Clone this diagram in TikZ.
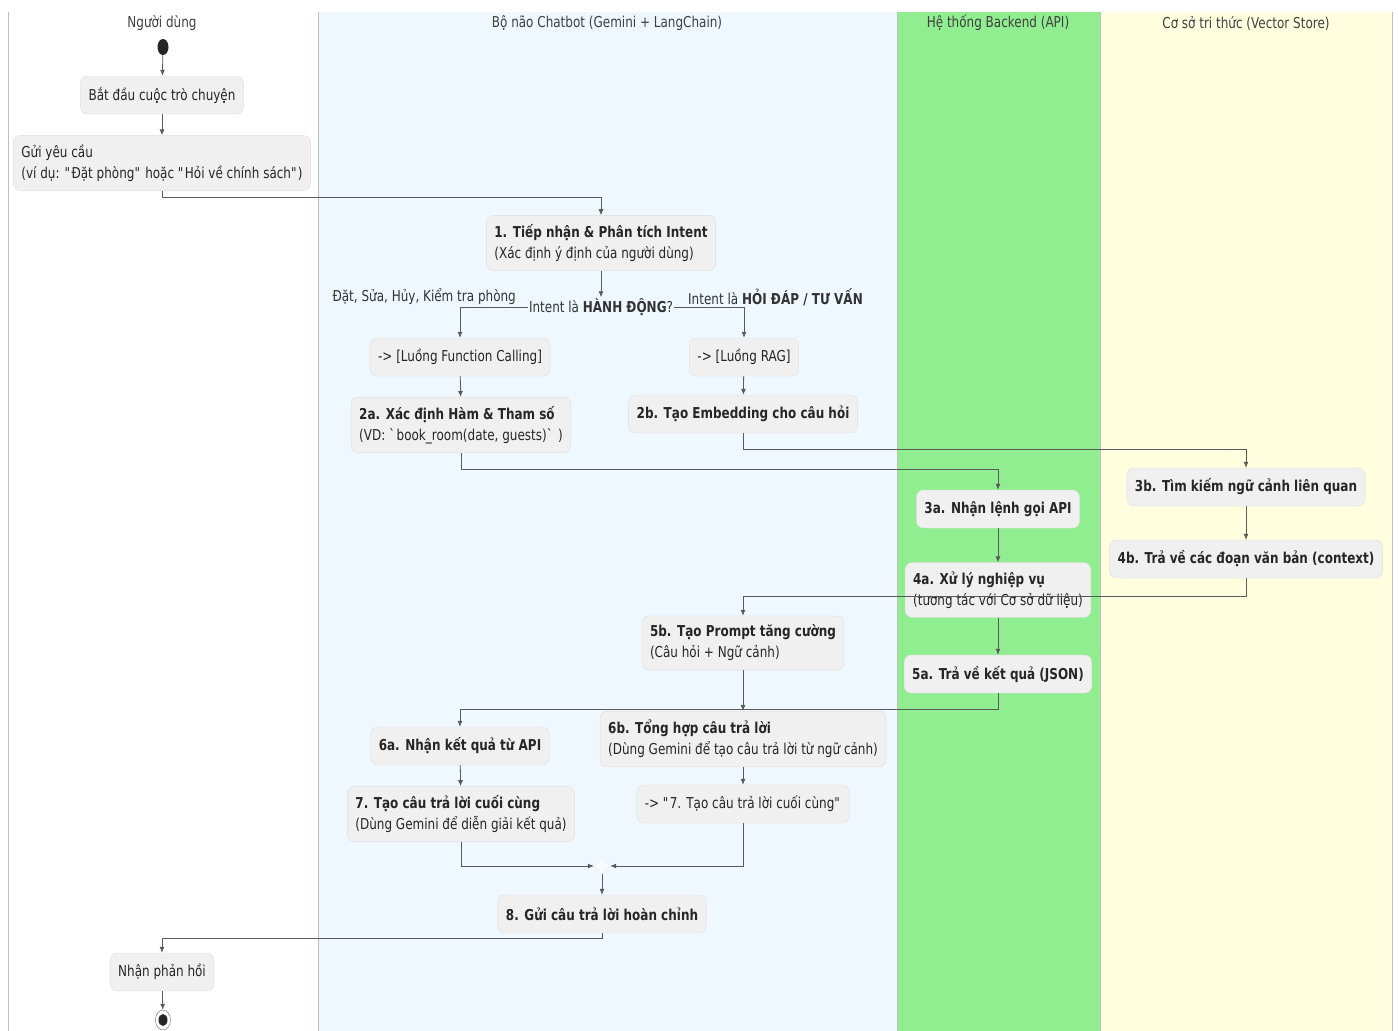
\documentclass[tikz,border=0pt]{standalone}
\usepackage{fontspec}
\setmainfont[FakeStretch=0.8]{DejaVu Sans}
\usetikzlibrary{positioning,arrows.meta,shapes.geometric}
\definecolor{laneblue}{HTML}{F0F8FF}
\definecolor{lanegreen}{HTML}{90EE90}
\definecolor{laneyellow}{HTML}{FFFFE0}
\definecolor{boxfill}{HTML}{F0F0F0}
\definecolor{boxline}{HTML}{DDDDDD}
\definecolor{edgecol}{HTML}{5A5A5A}
\newcommand{\q}{\textquotedbl}

\begin{document}
\begin{tikzpicture}[x=1pt,y=-1pt,
activity/.style={
% The shape:
rectangle, rounded corners=7pt,
minimum height=38pt, inner xsep=8pt, inner ysep=9pt,
% The rest
fill=boxfill, draw=boxline, text=black!85,
font=\fontsize{15}{21}\selectfont},
notebox/.style={activity, align=left},
flow/.style={-{Latex[length=6pt,width=5pt]}, draw=edgecol, line width=0.8pt},
lanehead/.style={font=\fontsize{15}{21}\selectfont, text=black!75},
guard/.style={font=\fontsize{15}{21}\selectfont, text=black!80, inner sep=1pt}]

\useasboundingbox (0,0) rectangle (1398,1031);

% swimlanes
\fill[laneblue] (318,12) rectangle (897,1031);
\fill[lanegreen] (897,12) rectangle (1100,1031);
\fill[laneyellow] (1100,12) rectangle (1392,1031);
\foreach \x in {8,318,897,1100,1392}
  \draw[black!25, line width=0.8pt] (\x,12) -- (\x,1031);

\node (hUser) [lanehead] at (162,23) {Người dùng};
\node (hBot) [lanehead] at (607,23) {Bộ não Chatbot (Gemini + LangChain)};
\node (hApi) [lanehead] at (998,23) {Hệ thống Backend (API)};
\node (hKb) [lanehead] at (1246,23) {Cơ sở tri thức (Vector Store)};

% user lane
\node (start) [ellipse, fill=black!85, minimum width=11pt, minimum height=16pt, inner sep=0pt] at (163,47) {};
\node (chat) [activity] at (162,95) {Bắt đầu cuộc trò chuyện};
\node (ask) [notebox] at (162,163) {Gửi yêu cầu\\(ví dụ: \q Đặt phòng\q{} hoặc \q Hỏi về chính sách\q)};

% chatbot lane
\node (intent) [notebox] at (601,243) {\textbf{1. Tiếp nhận \& Phân tích Intent}\\(Xác định ý định của người dùng)};
\node (decide) [guard] at (601,307) {Intent là \textbf{HÀNH ĐỘNG}?};
\node (yesLbl) [guard, anchor=east] at (517,297) {Đặt, Sửa, Hủy, Kiểm tra phòng};
\node (noLbl) [guard, anchor=west] at (687,297) {Intent là \textbf{HỎI ĐÁP / TƯ VẤN}};
\node (fcall) [activity] at (460,357) {-> [Luồng Function Calling]};
\node (rag) [activity] at (744,357) {-> [Luồng RAG]};
\node (func) [notebox] at (461,425) {\textbf{2a. Xác định Hàm \& Tham số}\\(VD: \textasciigrave book\_room(date, guests)\textasciigrave\ )};
\node (embed) [activity] at (743,414) {\textbf{2b. Tạo Embedding cho câu hỏi}};

% backend + vector store
\node (call) [activity] at (998,509) {\textbf{3a. Nhận lệnh gọi API}};
\node (search) [activity] at (1246,487) {\textbf{3b. Tìm kiếm ngữ cảnh liên quan}};
\node (logic) [notebox] at (998,590) {\textbf{4a. Xử lý nghiệp vụ}\\(tương tác với Cơ sở dữ liệu)};
\node (context) [activity] at (1246,559) {\textbf{4b. Trả về các đoạn văn bản (context)}};
\node (json) [activity] at (998,674) {\textbf{5a. Trả về kết quả (JSON)}};

% back to chatbot
\node (prompt) [notebox] at (743,643) {\textbf{5b. Tạo Prompt tăng cường}\\(Câu hỏi + Ngữ cảnh)};
\node (result) [activity] at (460,746) {\textbf{6a. Nhận kết quả từ API}};
\node (synth) [notebox] at (743,739) {\textbf{6b. Tổng hợp câu trả lời}\\(Dùng Gemini để tạo câu trả lời từ ngữ cảnh)};
\node (final) [notebox] at (461,814) {\textbf{7. Tạo câu trả lời cuối cùng}\\(Dùng Gemini để diễn giải kết quả)};
\node (jump) [activity] at (743,804) {-> \q 7. Tạo câu trả lời cuối cùng\q};
\node (merge) [diamond, fill=white!60!laneblue, draw=black!8, minimum size=16pt, inner sep=0pt] at (602,866) {};
\node (reply) [activity] at (602,914) {\textbf{8. Gửi câu trả lời hoàn chỉnh}};

% user again
\node (get) [activity] at (162,972) {Nhận phản hồi};
\node (stop) [ellipse, draw=black!60, fill=white, minimum width=15pt, minimum height=20pt, inner sep=0pt] at (163,1020) {};
\node (stopIn) [ellipse, fill=black!85, minimum width=9pt, minimum height=12pt, inner sep=0pt] at (stop) {};

% edges
\draw[flow] (start) -- (chat);
\draw[flow] (chat) -- (ask);
\draw[flow] (ask.south) -- ++(0,7) -| (intent.north);
\draw[flow] (intent) -- (decide);
\draw[flow] (decide.west) -| (fcall.north);
\draw[flow] (decide.east) -| (rag.north);
\draw[flow] (fcall) -- (func);
\draw[flow] (rag) -- (embed);
\draw[flow] (func.south) -- ++(0,16) -| (call.north);
\draw[flow] (embed.south) -- ++(0,16) -| (search.north);
\draw[flow] (call) -- (logic);
\draw[flow] (search) -- (context);
\draw[flow] (context.south) -- ++(0,18) -| (prompt.north);
\draw[flow] (logic) -- (json);
\draw[flow] (json.south) -- ++(0,16) -| (result.north);
\draw[flow] (prompt) -- (synth);
\draw[flow] (result) -- (final);
\draw[flow] (synth) -- (jump);
\draw[flow] (final.south) |- (merge.west);
\draw[flow] (jump.south) |- (merge.east);
\draw[flow] (merge) -- (reply);
\draw[flow] (reply.south) -- ++(0,5) -| (get.north);
\draw[flow] (get) -- (stop);

\end{tikzpicture}
\end{document}
